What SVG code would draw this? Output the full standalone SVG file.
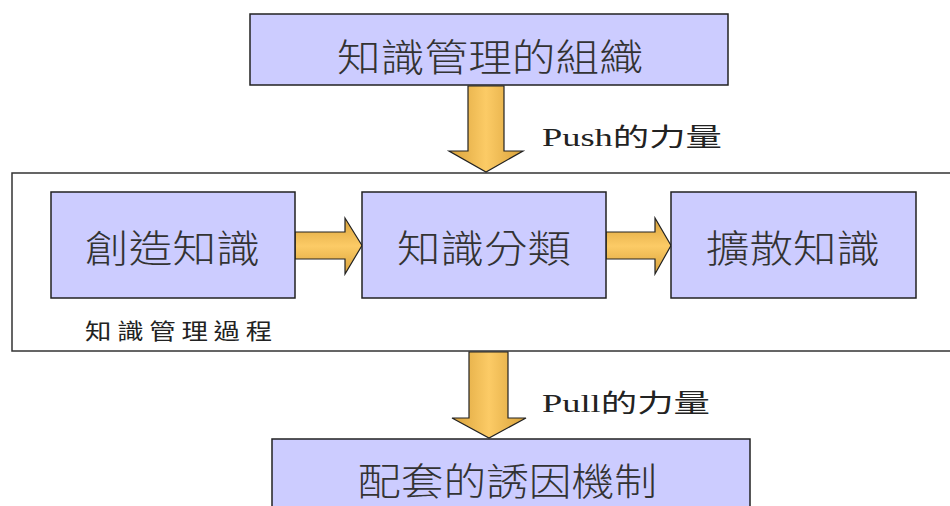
<svg xmlns="http://www.w3.org/2000/svg" width="950" height="506" viewBox="0 0 950 506">
<defs>
<linearGradient id="gH" x1="0" y1="0" x2="1" y2="0">
<stop offset="0" stop-color="#D9A23A"/><stop offset="0.5" stop-color="#FCCB66"/><stop offset="1" stop-color="#D9A23A"/>
</linearGradient>
<linearGradient id="gV" x1="0" y1="0" x2="0" y2="1">
<stop offset="0" stop-color="#D9A23A"/><stop offset="0.5" stop-color="#FCCB66"/><stop offset="1" stop-color="#D9A23A"/>
</linearGradient>
<style>
.box{fill:#CCCCFF;stroke:#222;stroke-width:1.5}
.frame{fill:#fff;stroke:#333;stroke-width:1.5}
.big{font-family:"Noto Sans CJK TC","Noto Sans CJK SC",sans-serif;font-weight:300;font-size:38px;fill:#333;dominant-baseline:central}
.lbl{font-family:"Liberation Serif","Noto Sans CJK TC",serif;font-size:25px;fill:#222}
.small{font-family:"Noto Sans CJK TC",sans-serif;font-size:22px;letter-spacing:4.8px;fill:#222}
.arrH{fill:url(#gH);stroke:#222;stroke-width:1.2;stroke-linejoin:miter}
.arrV{fill:url(#gV);stroke:#222;stroke-width:1.2;stroke-linejoin:miter}
</style>
</defs>
<rect width="950" height="506" fill="#fff"/>
<g id="frame">
<rect class="frame" x="12" y="173" width="945" height="178"/>
<text class="small" transform="translate(85,339) scale(1.2,1)" x="0" y="0">知識管理過程</text>
</g>
<g id="connectors">
<polygon class="arrH" points="468,86 504,86 504,151 523,151 486,172 449,151 468,151 468,86"/>
<polygon class="arrV" points="295,232 345,232 345,218 362,245.5 345,274 345,259 295,259"/>
<polygon class="arrV" points="606,232 655,232 655,218 671,245.5 655,274 655,259 606,259"/>
<polygon class="arrH" points="469,352 508,352 508,418 526,418 489,438 452,418 469,418 469,352"/>
<text class="lbl" x="542" y="146" textLength="180" lengthAdjust="spacingAndGlyphs">Push的力量</text>
<text class="lbl" x="542" y="412" textLength="168" lengthAdjust="spacingAndGlyphs">Pull的力量</text>
</g>
<g id="n_org">
<rect class="box" x="250" y="14" width="478" height="71"/>
<text class="big" x="337" y="54" textLength="306" lengthAdjust="spacingAndGlyphs">知識管理的組織</text>
</g>
<g id="n_create">
<rect class="box" x="51" y="192" width="244" height="106"/>
<text class="big" x="85" y="245" textLength="175" lengthAdjust="spacingAndGlyphs">創造知識</text>
</g>
<g id="n_classify">
<rect class="box" x="362" y="192" width="244" height="106"/>
<text class="big" x="397" y="245" textLength="174" lengthAdjust="spacingAndGlyphs">知識分類</text>
</g>
<g id="n_spread">
<rect class="box" x="671" y="192" width="245" height="106"/>
<text class="big" x="706" y="245" textLength="174" lengthAdjust="spacingAndGlyphs">擴散知識</text>
</g>
<g id="n_incentive">
<rect class="box" x="272" y="439" width="478" height="80"/>
<text class="big" x="358" y="478" textLength="299" lengthAdjust="spacingAndGlyphs">配套的誘因機制</text>
</g>
</svg>
